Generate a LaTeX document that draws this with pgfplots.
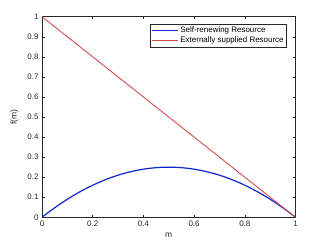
\documentclass[border=0pt]{standalone}
\usepackage{pgfplots}
\pgfplotsset{compat=1.18}
\usepackage{fontspec}
\setmainfont{Liberation Sans}
\definecolor{mblue}{rgb}{0.05,0.15,0.8}
\definecolor{mred}{rgb}{0.85,0.3,0.3}
\definecolor{axgray}{rgb}{0.15,0.15,0.15}
\begin{document}
\begin{tikzpicture}
\path[use as bounding box] (0,0) rectangle (327bp,245bp);
\begin{axis}[
  at={(42bp,27.7bp)}, anchor=south west,
  scale only axis, width=253.5bp, height=200.6bp,
  xmin=0, xmax=1, ymin=0, ymax=1,
  xtick={0,0.2,0.4,0.6,0.8,1},
  ytick={0,0.1,0.2,0.3,0.4,0.5,0.6,0.7,0.8,0.9,1},
  xticklabels={0,0.2,0.4,0.6,0.8,1},
  yticklabels={0,0.1,0.2,0.3,0.4,0.5,0.6,0.7,0.8,0.9,1},
  tick align=inside, major tick length=2.5bp,
  tick style={axgray, line width=0.5pt},
  axis line style={axgray, line width=0.5pt},
  ticklabel style={font=\fontsize{8}{9}\selectfont, text=axgray},
  xlabel={m}, ylabel={f(m)},
  label style={font=\fontsize{8.5}{10}\selectfont, text=axgray},
  xlabel style={at={(0.5,0)}, anchor=north, yshift=-12bp},
  ylabel style={at={(0,0.5)}, anchor=south, yshift=20bp},
  legend style={at={(0.966,0.964)}, anchor=north east, font=\fontsize{8}{9}\selectfont,
    draw=axgray, line width=0.5pt, inner sep=1pt, row sep=-1.5pt},
  legend cell align=left,
  legend image code/.code={\draw[#1] (0cm,0cm) -- (0.9cm,0cm);},
]
\addplot[mblue, line width=1.2pt] coordinates {
(0,0) (0.025,0.024375) (0.05,0.0475) (0.075,0.069375) (0.1,0.09) (0.125,0.109375) (0.15,0.1275)
(0.175,0.144375) (0.2,0.16) (0.225,0.174375) (0.25,0.1875) (0.275,0.199375) (0.3,0.21)
(0.325,0.219375) (0.35,0.2275) (0.375,0.234375) (0.4,0.24) (0.425,0.244375) (0.45,0.2475)
(0.475,0.249375) (0.5,0.25) (0.525,0.249375) (0.55,0.2475) (0.575,0.244375) (0.6,0.24)
(0.625,0.234375) (0.65,0.2275) (0.675,0.219375) (0.7,0.21) (0.725,0.199375) (0.75,0.1875)
(0.775,0.174375) (0.8,0.16) (0.825,0.144375) (0.85,0.1275) (0.875,0.109375) (0.9,0.09)
(0.925,0.069375) (0.95,0.0475) (0.975,0.024375) (1,0)
};
\addlegendentry{Self-renewing Resource}
\addplot[mred, line width=0.9pt] coordinates {(0,1) (1,0)};
\addlegendentry{Externally supplied Resource}
\end{axis}
\end{tikzpicture}
\end{document}
